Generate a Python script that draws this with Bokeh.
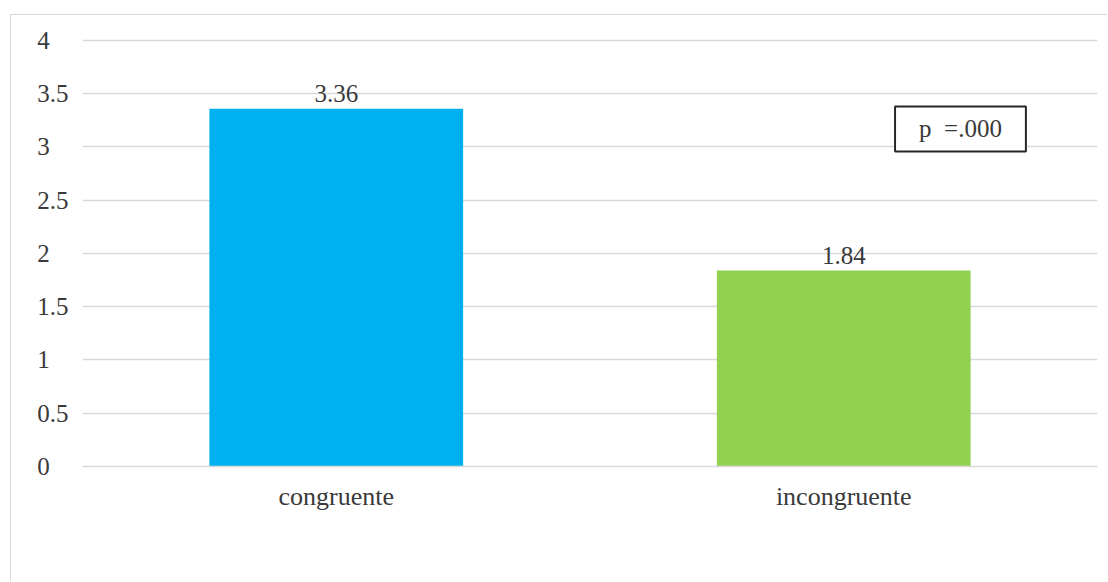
from bokeh.plotting import figure
from bokeh.models import ColumnDataSource, Range1d, FixedTicker, LabelSet, Label
from bokeh.embed import file_html
from bokeh.resources import INLINE

categories = ["congruente", "incongruente"]
values = [3.36, 1.84]
value_labels = ["3.36", "1.84"]
colors = ["#00B0F0", "#92D050"]
y_ticks = [0, 0.5, 1, 1.5, 2, 2.5, 3, 3.5, 4]
y_tick_labels = ["0", "0.5", "1", "1.5", "2", "2.5", "3", "3.5", "4"]
p_text = "p\u00a0\u00a0=.000"

FONT = "Liberation Serif"
TXT = "#3a3a3a"
GRID = "#d9d9d9"
NB = "\u00a0"


def pad_left_aligned(lab):
    # emulate left-aligned tick labels: pad short labels to the width of "0.5"
    if "." in lab:
        return lab
    return lab + NB * 3


src = ColumnDataSource(dict(cat=categories, val=values, lab=value_labels, col=colors))

p = figure(x_range=categories, y_range=Range1d(0, 4.15), width=1097, height=567,
           output_backend="svg", toolbar_location=None,
           min_border_left=71, min_border_right=11, min_border_top=9, min_border_bottom=116)
p.styles = {"margin-left": "10px", "margin-top": "14px",
            "border-top": "1px solid #d9d9d9", "border-left": "1px solid #d9d9d9"}
p.outline_line_color = None
p.background_fill_color = "white"
p.border_fill_color = "white"

p.vbar(x="cat", top="val", width=0.5, fill_color="col", line_color=None, source=src)

p.add_layout(LabelSet(x="cat", y="val", text="lab", source=src, text_align="center",
                      text_baseline="bottom", y_offset=7, text_font=FONT,
                      text_font_size="25px", text_color=TXT))

p.add_layout(Label(x=1.73, y=3.17, text=p_text, text_align="center", text_baseline="middle",
                   text_font=FONT, text_font_size="25px", text_color=TXT,
                   border_line_color="#262626", border_line_width=2,
                   background_fill_color="white", padding=(24, 9)))

p.xgrid.grid_line_color = None
p.ygrid.grid_line_color = GRID
p.ygrid.grid_line_width = 1.5
p.ygrid.ticker = FixedTicker(ticks=y_ticks)

p.yaxis.ticker = FixedTicker(ticks=y_ticks)
p.yaxis.major_label_overrides = {t: pad_left_aligned(l) for t, l in zip(y_ticks, y_tick_labels)}
p.yaxis.axis_line_color = None
p.yaxis.major_tick_line_color = None
p.yaxis.minor_tick_line_color = None
p.yaxis.major_tick_out = 0
p.yaxis.major_label_standoff = 14
p.yaxis.major_label_text_font = FONT
p.yaxis.major_label_text_font_size = "25px"
p.yaxis.major_label_text_color = TXT

p.xaxis.axis_line_color = GRID
p.xaxis.axis_line_width = 1.5
p.xaxis.major_tick_line_color = None
p.xaxis.minor_tick_line_color = None
p.xaxis.major_tick_out = 0
p.xaxis.major_label_standoff = 15
p.xaxis.major_label_text_font = FONT
p.xaxis.major_label_text_font_size = "26px"
p.xaxis.major_label_text_color = TXT

open("out.html", "w").write(file_html(p, INLINE))
